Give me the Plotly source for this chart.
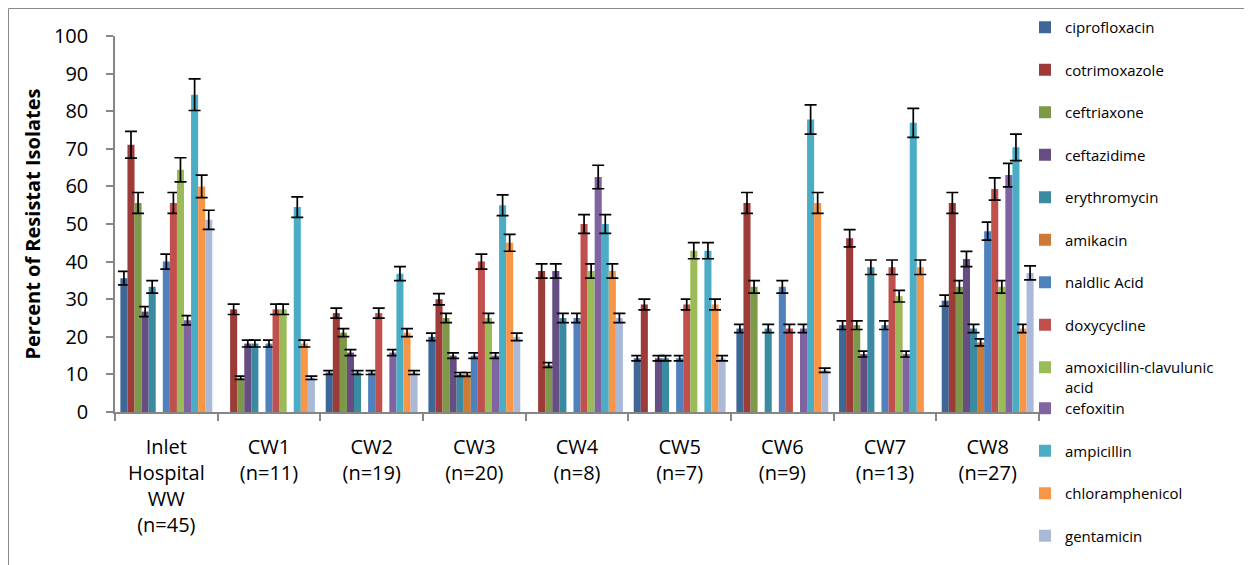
import plotly.graph_objects as go

categories = [
    "Inlet<br>Hospital<br>WW<br>(n=45)", "CW1<br>(n=11)", "CW2<br>(n=19)", "CW3<br>(n=20)",
    "CW4<br>(n=8)", "CW5<br>(n=7)", "CW6<br>(n=9)", "CW7<br>(n=13)", "CW8<br>(n=27)",
]

antibiotics = [
    "ciprofloxacin", "cotrimoxazole", "ceftriaxone", "ceftazidime", "erythromycin",
    "amikacin", "naldlic Acid", "doxycycline", "amoxicillin-clavulunic<br>acid",
    "cefoxitin", "ampicillin", "chloramphenicol", "gentamicin",
]

# percent resistant per site (order follows categories)
ciprofloxacin = [35.6, 0, 10.5, 20, 0, 14.3, 22.2, 23.1, 29.6]
cotrimoxazole = [71.1, 27.3, 26.3, 30, 37.5, 28.6, 55.6, 46.2, 55.6]
ceftriaxone = [55.6, 9.1, 21.1, 25, 12.5, 0, 33.3, 23.1, 33.3]
ceftazidime = [26.7, 18.2, 15.8, 15, 37.5, 14.3, 0, 15.4, 40.7]
erythromycin = [33.3, 18.2, 10.5, 10, 25, 14.3, 22.2, 38.5, 22.2]
amikacin = [0, 0, 0, 10, 0, 0, 0, 0, 18.5]
naldlic_acid = [40.0, 18.2, 10.5, 15, 25, 14.3, 33.3, 23.1, 48.1]
doxycycline = [55.6, 27.3, 26.3, 40, 50, 28.6, 22.2, 38.5, 59.3]
amoxicillin_clavulunic = [64.4, 27.3, 0, 25, 37.5, 42.9, 0, 30.8, 33.3]
cefoxitin = [24.4, 0, 15.8, 15, 62.5, 0, 22.2, 15.4, 63.0]
ampicillin = [84.4, 54.5, 36.8, 55, 50, 42.9, 77.8, 76.9, 70.4]
chloramphenicol = [60.0, 18.2, 21.1, 45, 37.5, 28.6, 55.6, 38.5, 22.2]
gentamicin = [51.1, 9.1, 10.5, 20, 25, 14.3, 11.1, 0, 37.0]

series = [ciprofloxacin, cotrimoxazole, ceftriaxone, ceftazidime, erythromycin, amikacin,
          naldlic_acid, doxycycline, amoxicillin_clavulunic, cefoxitin, ampicillin,
          chloramphenicol, gentamicin]

colors = ["#3E6797", "#9D3B38", "#7D9848", "#664E83", "#3A8BA2", "#CE7A32",
          "#4F81BD", "#C0504D", "#9BBB59", "#8064A2", "#4BACC6", "#F79646", "#AAB9D7"]

FONT = "Open Sans"

fig = go.Figure()
for i, (name, vals, col) in enumerate(zip(antibiotics, series, colors)):
    fig.add_trace(go.Bar(
        x=categories,
        y=[v if v > 0 else None for v in vals],
        name=name,
        marker=dict(color=col, line=dict(width=0)),
        error_y=dict(type="percent", value=5, color="black", thickness=1.7, width=6),
        legendgroup=f"g{i}",
        legend="legend" if i < 9 else "legend2",
    ))

# the page body adds an 8px margin, so the figure is drawn 8px in from the corner
W, H = 1244, 557
L, R, T, B = 107, 1031, 28, 404   # plot area in figure pixels
def px_x(p):
    return (p - L) / (R - L)
def px_y(p):
    return (B - p) / (B - T)

legend_common = dict(
    font=dict(family=FONT, size=15, color="#000"),
    bgcolor="rgba(0,0,0,0)",
    tracegroupgap=20,
    xanchor="left", yanchor="top",
    traceorder="grouped",
    valign="top",
    itemwidth=30,
    maxheight=540,
)

fig.update_layout(
    width=W, height=H,
    margin=dict(l=L, r=W - R, t=T, b=H - B, autoexpand=False),
    paper_bgcolor="white", plot_bgcolor="white",
    barmode="group", bargap=0.105, bargroupgap=0,
    font=dict(family=FONT, color="#000"),
    legend=dict(x=px_x(1017), y=px_y(3), **legend_common),
    legend2=dict(x=px_x(1017), y=px_y(384), **legend_common),
    xaxis=dict(
        type="category", automargin=False,
        showline=True, linecolor="#868686", linewidth=1.5,
        ticks="outside", tickson="boundaries", ticklen=7, tickcolor="#868686", tickwidth=1.5,
        tickfont=dict(family=FONT, size=20, color="#000"),
        ticklabelstandoff=16,
        showgrid=False,
    ),
    yaxis=dict(
        range=[0, 100], dtick=10, automargin=False,
        showline=True, linecolor="#868686", linewidth=1.5,
        ticks="outside", ticklen=7, tickcolor="#868686", tickwidth=1.5,
        tickfont=dict(family=FONT, size=20, color="#000"),
        ticklabelstandoff=14,
        showgrid=False, zeroline=False,
        title=dict(text="<b>Percent of Resistat Isolates</b>",
                   font=dict(family=FONT, size=20, color="#000"), standoff=8),
    ),
    shapes=[
        dict(type="line", xref="paper", yref="paper",
             x0=px_x(0.5), x1=px_x(W), y0=px_y(0.5), y1=px_y(0.5),
             line=dict(color="#8a8a8a", width=1)),
        dict(type="line", xref="paper", yref="paper",
             x0=px_x(0.5), x1=px_x(0.5), y0=px_y(0.5), y1=px_y(H),
             line=dict(color="#8a8a8a", width=1)),
    ],
)

fig.write_html("out.html")
